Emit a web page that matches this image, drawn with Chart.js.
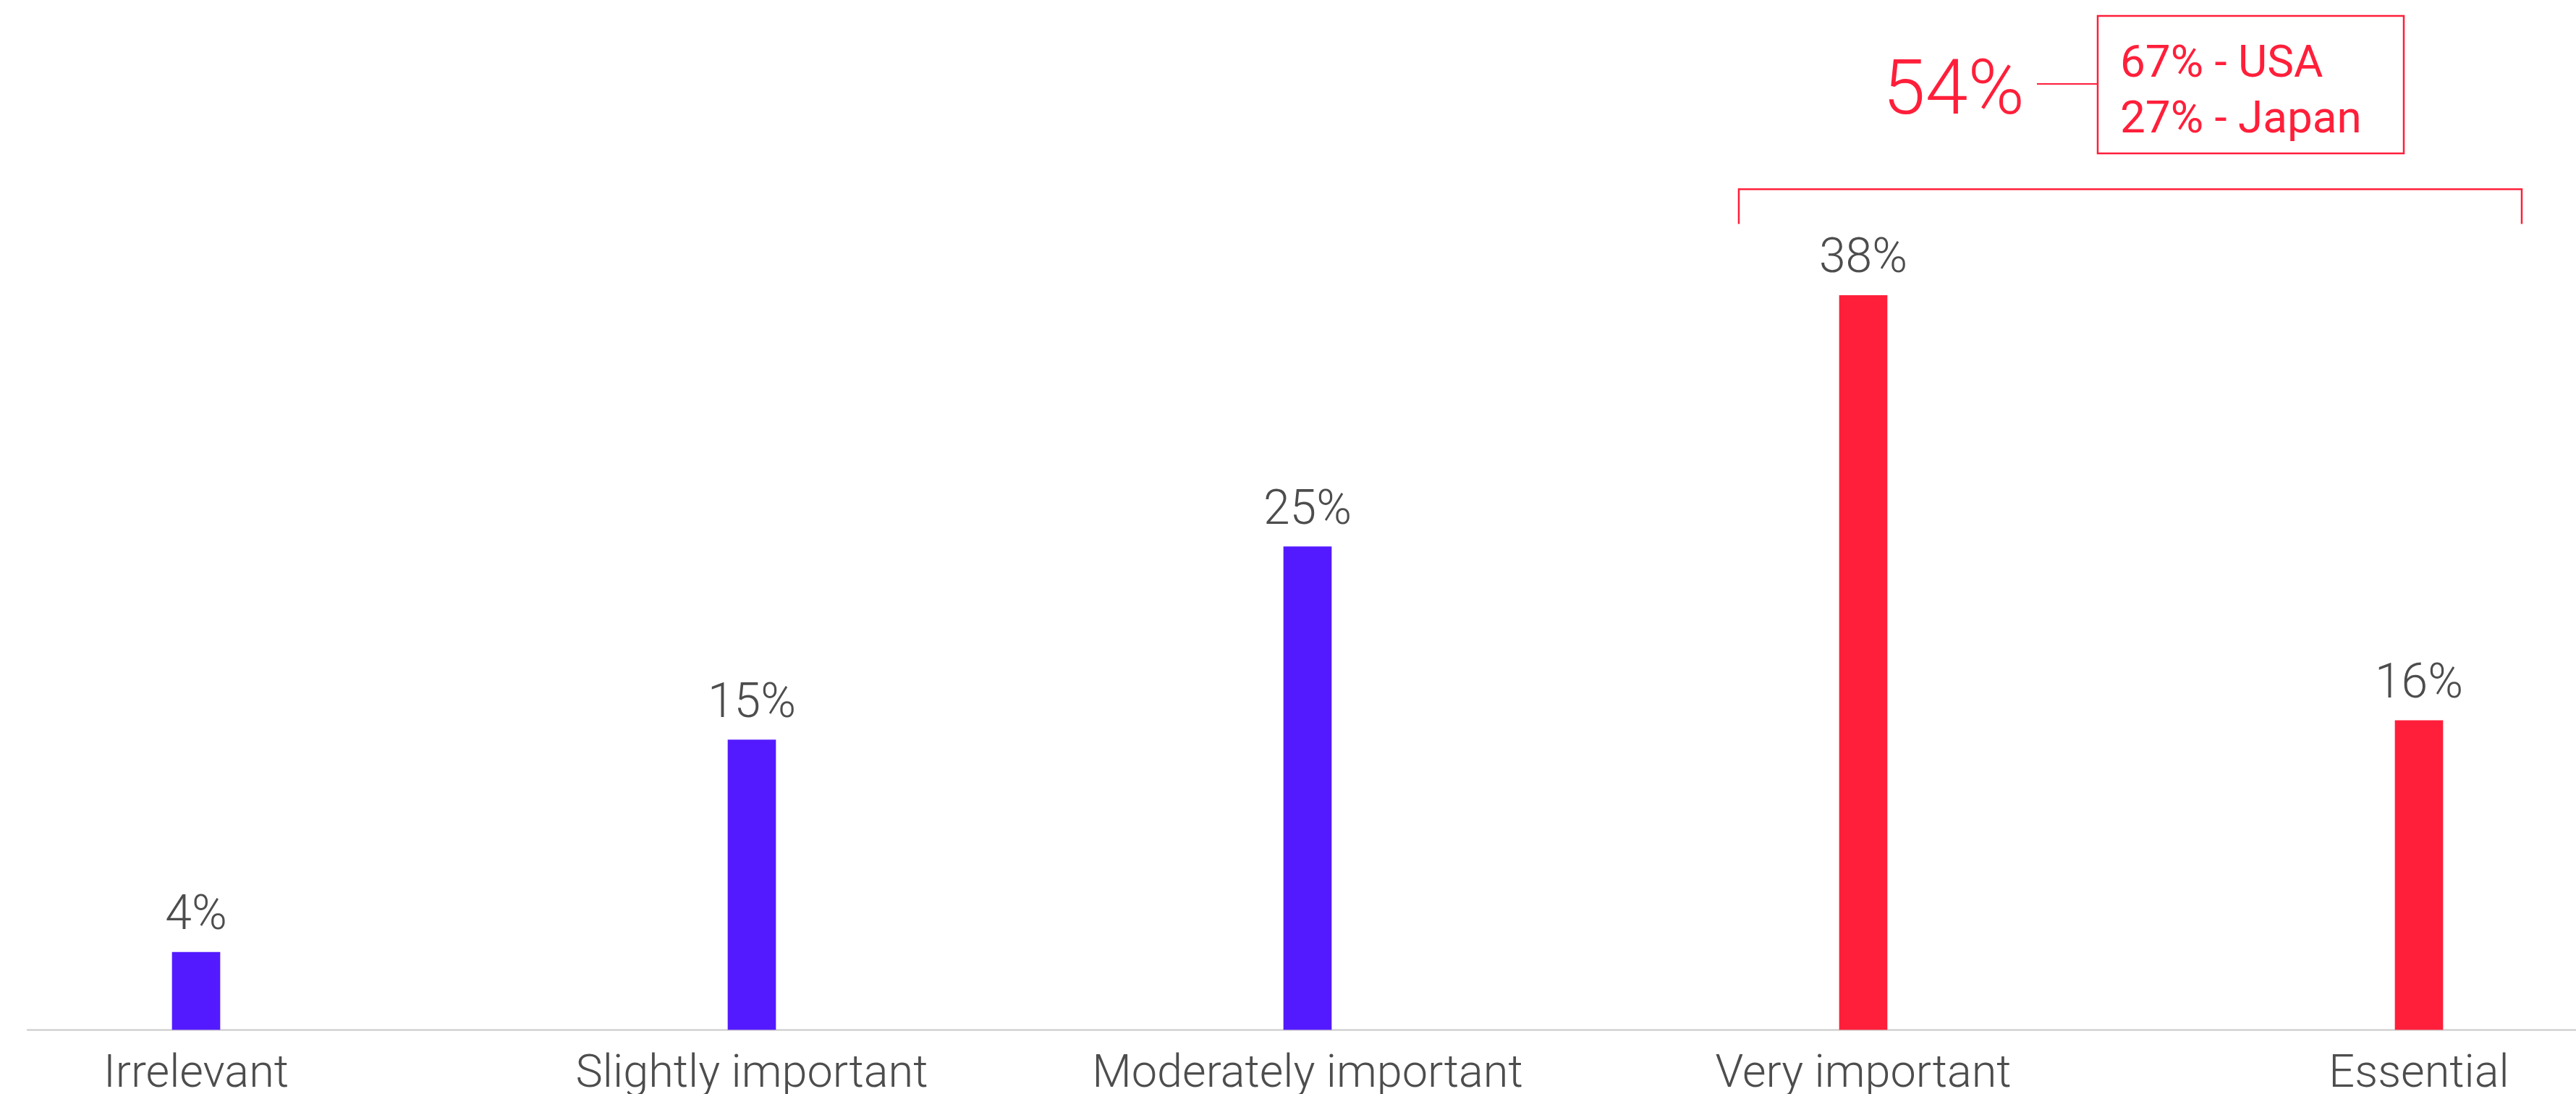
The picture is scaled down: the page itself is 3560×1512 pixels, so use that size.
<!DOCTYPE html>
<html>
<head>
<meta charset="utf-8">
<script src="https://cdn.jsdelivr.net/npm/chart.js@4.4.0/dist/chart.umd.min.js"></script>
<style>
  html, body { margin: 0; padding: 0; background: #fff; }
  #wrap { width: 3560px; height: 1512px; }
</style>
</head>
<body>
<div id="wrap"><canvas id="myChart"></canvas></div>
<script>
const categories = ['Irrelevant', 'Slightly important', 'Moderately important', 'Very important', 'Essential'];
const shares = [4, 15, 25, 38, 16];
const barColors = ['#541aff', '#541aff', '#541aff', '#ff1f3a', '#ff1f3a'];
const totalLabel = '54%';
const breakdownLabels = ['67% - USA', '27% - Japan'];

const RED = '#ff1f3a';
const GREY = '#4d4d4d';
const FONT = 'Roboto';

// grey baseline under the bars, wider than the plot area
const baseline = {
  id: 'baseline',
  beforeDatasetsDraw(chart) {
    const { ctx, scales: { y } } = chart;
    const yy = Math.round(y.getPixelForValue(0)) + 0.5;
    ctx.save();
    ctx.strokeStyle = '#c8c8c8';
    ctx.lineWidth = 2;
    ctx.beginPath();
    ctx.moveTo(37, yy);
    ctx.lineTo(chart.width, yy);
    ctx.stroke();
    ctx.restore();
  }
};

// value above each bar
const valueLabels = {
  id: 'valueLabels',
  afterDatasetsDraw(chart) {
    const { ctx } = chart;
    const meta = chart.getDatasetMeta(0);
    ctx.save();
    ctx.font = `300 66px ${FONT}`;
    ctx.fillStyle = GREY;
    ctx.textAlign = 'center';
    ctx.textBaseline = 'alphabetic';
    meta.data.forEach((bar, i) => {
      ctx.fillText(shares[i] + '%', bar.x, bar.y - 32);
    });
    ctx.restore();
  }
};

// bracket over the two top answers with the combined share and a breakdown box
const bracket = {
  id: 'bracket',
  afterDraw(chart) {
    const { ctx, scales: { x, y } } = chart;
    const left = x.getPixelForValue(3) - 172;
    const right = x.getPixelForValue(4) + 142;
    const top = y.getPixelForValue(43.5);
    const foot = y.getPixelForValue(41.7);

    ctx.save();
    ctx.strokeStyle = RED;
    ctx.fillStyle = RED;
    ctx.lineWidth = 2.5;

    ctx.beginPath();
    ctx.moveTo(left, foot);
    ctx.lineTo(left, top);
    ctx.lineTo(right, top);
    ctx.lineTo(right, foot);
    ctx.stroke();

    // breakdown box
    const bx = 2899, by = 22, bw = 423, bh = 190;
    ctx.strokeRect(bx, by, bw, bh);

    // connector
    ctx.lineWidth = 2;
    ctx.beginPath();
    ctx.moveTo(2815, 116);
    ctx.lineTo(bx, 116);
    ctx.stroke();

    ctx.textBaseline = 'alphabetic';
    ctx.textAlign = 'center';
    ctx.font = `300 106px ${FONT}`;
    ctx.fillText(totalLabel, 2700, 157);

    ctx.textAlign = 'left';
    ctx.font = `400 62px ${FONT}`;
    ctx.fillText(breakdownLabels[0], 2930, 106);
    ctx.fillText(breakdownLabels[1], 2930, 183);
    ctx.restore();
  }
};

const data = {
  labels: categories,
  datasets: [
    {
      label: 'Share',
      data: shares,
      backgroundColor: barColors,
      borderWidth: 0,
      barThickness: 66,
      clip: false
    }
  ]
};

const config = {
  type: 'bar',
  data: data,
  options: {
    responsive: true,
    maintainAspectRatio: false,
    animation: false,
    devicePixelRatio: 1,
    layout: { padding: { left: 271, right: 217, top: 88, bottom: -38 } },
    plugins: {
      legend: { display: false },
      tooltip: { enabled: false }
    },
    scales: {
      x: {
        offset: false,
        grid: { display: false, drawTicks: false },
        border: { display: false },
        ticks: {
          color: GREY,
          padding: 32,
          maxRotation: 0,
          autoSkip: false,
          font: { family: FONT, size: 63, weight: 300, lineHeight: 1 }
        }
      },
      y: {
        display: false,
        min: 0,
        max: 50
      }
    }
  },
  plugins: [baseline, valueLabels, bracket]
};

const myChart = new Chart(document.getElementById('myChart'), config);
</script>
</body>
</html>
